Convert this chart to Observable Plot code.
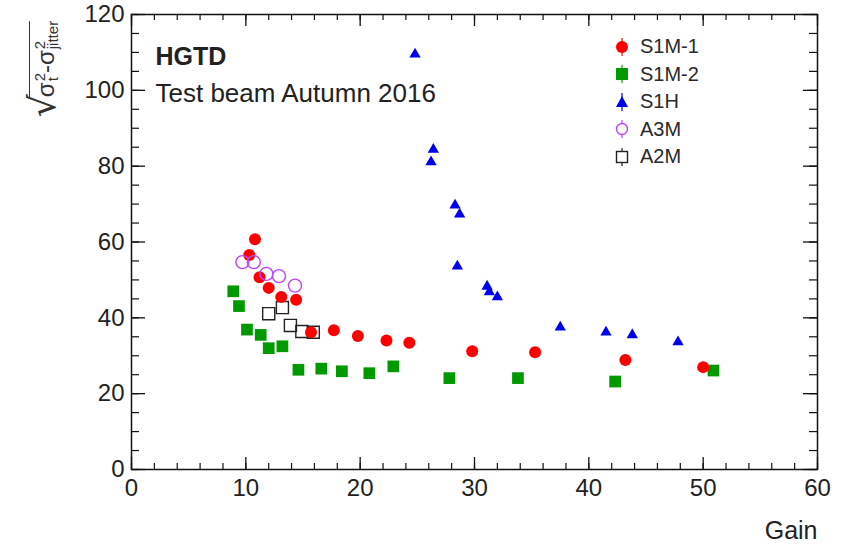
<!DOCTYPE html>
<html><head><meta charset="utf-8">
<script src="https://cdn.jsdelivr.net/npm/d3@7"></script>
<script src="https://cdn.jsdelivr.net/npm/@observablehq/plot@0.6"></script>
<style>
body{margin:0;background:#fff;}
#wrap{position:relative;width:846px;height:550px;font-family:"Liberation Sans",Arial,sans-serif;color:#222;}
#ylab{position:absolute;left:42px;top:69px;transform:translate(-50%,-50%) rotate(-90deg);white-space:nowrap;font-size:24px;line-height:1;display:flex;align-items:flex-end;color:#333;}
#ylab .rad{font-size:36px;line-height:1;font-family:"DejaVu Sans",sans-serif;margin-right:-3px;margin-bottom:-2px;}
#ylab .body{border-top:1.6px solid #333;padding-top:3px;display:flex;align-items:center;}
#ylab .ss{display:inline-flex;flex-direction:column;font-size:15px;line-height:13px;margin-left:1px;}
#legend{position:absolute;left:612px;top:33px;font-size:20px;color:#2a2a2a;}
#legend .row{display:flex;align-items:center;height:27.5px;}
#legend svg{width:20px;height:22px;margin-right:8px;}
</style></head><body><div id="wrap"></div>
<script>
// ---- data ----
const s1m1Gain=[10.8,10.3,11.2,12.0,13.1,14.4,15.7,17.7,19.8,22.3,24.3,29.8,35.3,43.2,50.0];
const s1m1Res =[60.7,56.6,50.7,47.9,45.5,44.8,36.2,36.7,35.2,34.0,33.4,31.2,30.9,28.9,27.0];
const s1m2Gain=[8.9,9.4,10.1,11.3,12.0,13.2,14.6,16.6,18.4,20.8,22.9,27.8,33.8,42.3,50.9];
const s1m2Res =[47.0,43.1,36.9,35.5,32.0,32.5,26.3,26.6,25.9,25.4,27.2,24.1,24.1,23.2,26.1];
const s1hGain =[24.8,26.4,26.2,28.3,28.7,28.5,31.1,31.3,32.0,37.5,41.5,43.8,47.8];
const s1hRes  =[109.5,84.4,81.1,69.7,67.3,53.6,48.3,46.8,45.5,37.5,36.2,35.5,33.6];
const a3mGain =[9.7,10.7,11.8,12.9,14.3];
const a3mRes  =[54.7,54.7,51.6,51.0,48.5];
const a2mGain =[12.0,13.2,13.9,14.9,15.9];
const a2mRes  =[41.1,42.7,38.0,36.4,36.2];
const seriesNames=["S1M-1","S1M-2","S1H","A3M","A2M"];
const xTickLabels=[0,10,20,30,40,50,60];
const yTickLabels=[0,20,40,60,80,100,120];
const xMinorTicks=d3.range(0,61,2);
const yMinorTicks=d3.range(0,121,5);

const W=846,H=550,mL=131,mR=29,mT=14,mB=81;
const pw=W-mL-mR, ph=H-mT-mB;
const toRows=(g,r)=>g.map((x,i)=>({x,y:r[i]}));

const red="#ff0000", green="#009a00", blue="#0000ee", magenta="#bb44ff", black="#222";

const plot=Plot.plot({
  width:W,height:H,marginLeft:mL,marginRight:mR,marginTop:mT,marginBottom:mB,
  style:{fontFamily:"'Liberation Sans',Arial,sans-serif",background:"#fff",color:"#222"},
  x:{domain:[0,60]},
  y:{domain:[0,120]},
  marks:[
    Plot.tickX(xTickLabels,{x:d=>d,insetTop:ph-12,stroke:"#111",strokeWidth:1.3}),
    Plot.tickX(xMinorTicks,{x:d=>d,insetTop:ph-6,stroke:"#111",strokeWidth:1.2}),
    Plot.tickX(xTickLabels,{x:d=>d,insetBottom:ph-12,stroke:"#111",strokeWidth:1.3}),
    Plot.tickX(xMinorTicks,{x:d=>d,insetBottom:ph-6,stroke:"#111",strokeWidth:1.2}),
    Plot.tickY(yTickLabels,{y:d=>d,insetRight:pw-14,stroke:"#111",strokeWidth:1.3}),
    Plot.tickY(yMinorTicks,{y:d=>d,insetRight:pw-8,stroke:"#111",strokeWidth:1.2}),
    Plot.tickY(yTickLabels,{y:d=>d,insetLeft:pw-14,stroke:"#111",strokeWidth:1.3}),
    Plot.tickY(yMinorTicks,{y:d=>d,insetLeft:pw-8,stroke:"#111",strokeWidth:1.2}),
    Plot.axisX(xTickLabels,{tickSize:0,tickPadding:9,fontSize:24,label:null,fill:"#222"}),
    Plot.axisY(yTickLabels,{tickSize:0,tickPadding:7,fontSize:24,label:null,fill:"#222"}),
    Plot.frame({stroke:"#111",strokeWidth:1.5}),
    Plot.dot(toRows(s1m2Gain,s1m2Res),{x:"x",y:"y",symbol:"square",r:6.6,fill:green}),
    Plot.dot(toRows(s1hGain,s1hRes),{x:"x",y:"y",symbol:"triangle",r:4.2,fill:blue}),
    Plot.dot(toRows(a2mGain,a2mRes),{x:"x",y:"y",symbol:"square",r:6.8,fill:"none",stroke:black,strokeWidth:1.4}),
    Plot.dot(toRows(s1m1Gain,s1m1Res),{x:"x",y:"y",symbol:"circle",r:6,fill:red}),
    Plot.dot(toRows(a3mGain,a3mRes),{x:"x",y:"y",symbol:"circle",r:6.5,fill:"none",stroke:magenta,strokeWidth:1.4}),
    Plot.text(["HGTD"],{frameAnchor:"top-left",dx:24,dy:33,fontSize:25,fontWeight:"bold",textAnchor:"start",fill:"#222"}),
    Plot.text(["Test beam Autumn 2016"],{frameAnchor:"top-left",dx:24,dy:69,fontSize:26,textAnchor:"start",fill:"#222"}),
    Plot.text(["Gain"],{frameAnchor:"bottom-right",dy:69,fontSize:25,textAnchor:"end",fill:"#222"})
  ]
});
const wrap=document.getElementById("wrap");
wrap.appendChild(plot);

const yl=document.createElement("div");
yl.id="ylab";
yl.innerHTML='<span class="rad">√</span><span class="body">σ<span class="ss"><span>2</span><span>t</span></span>-σ<span class="ss"><span>2</span><span>jitter</span></span></span>';
wrap.appendChild(yl);

const symbols=[
  `<line x1="10" y1="2" x2="10" y2="20" stroke="${red}" stroke-width="1.2"/><circle cx="10" cy="11" r="6" fill="${red}"/>`,
  `<line x1="10" y1="2" x2="10" y2="20" stroke="${green}" stroke-width="1.2"/><rect x="4" y="5" width="12" height="12" fill="${green}"/>`,
  `<line x1="10" y1="2" x2="10" y2="20" stroke="${blue}" stroke-width="1.2"/><path d="M10,5L16,16L4,16Z" fill="${blue}"/>`,
  `<line x1="10" y1="2" x2="10" y2="20" stroke="${magenta}" stroke-width="1.2"/><circle cx="10" cy="11" r="5.5" fill="#fff" stroke="${magenta}" stroke-width="1.4"/>`,
  `<line x1="10" y1="2" x2="10" y2="20" stroke="${black}" stroke-width="1.2"/><rect x="4.5" y="5.5" width="11" height="11" fill="#fff" stroke="${black}" stroke-width="1.4"/>`
];
const lg=document.createElement("div");
lg.id="legend";
lg.innerHTML=seriesNames.map((n,i)=>`<div class="row"><svg viewBox="0 0 20 22">${symbols[i]}</svg><span>${n}</span></div>`).join("");
wrap.appendChild(lg);
</script></body></html>
